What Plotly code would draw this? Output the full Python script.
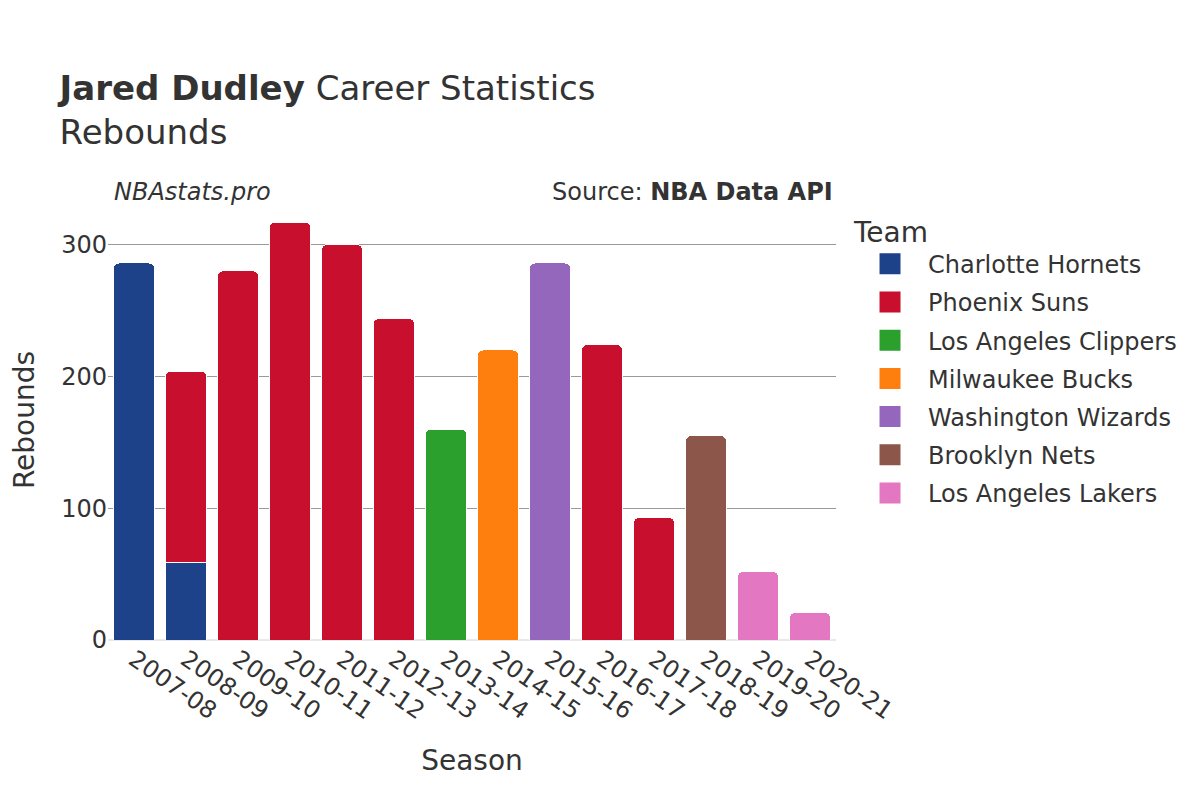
import plotly.graph_objects as go

seasons = ["2007-08", "2008-09", "2009-10", "2010-11", "2011-12", "2012-13", "2013-14",
           "2014-15", "2015-16", "2016-17", "2017-18", "2018-19", "2019-20", "2020-21"]

teams = ["Charlotte Hornets", "Phoenix Suns", "Los Angeles Clippers", "Milwaukee Bucks",
         "Washington Wizards", "Brooklyn Nets", "Los Angeles Lakers"]
team_colors = ["#1d428a", "#c8102e", "#2ca02c", "#ff7f0e", "#9467bd", "#8c564b", "#e377c2"]

# rebounds per season, per team (None = not on that team)
charlotte = [286, 59, None, None, None, None, None, None, None, None, None, None, None, None]
phoenix = [None, 145, 280, 317, 300, 244, None, None, None, 224, 93, None, None, None]
clippers = [None, None, None, None, None, None, 160, None, None, None, None, None, None, None]
bucks = [None, None, None, None, None, None, None, 220, None, None, None, None, None, None]
wizards = [None, None, None, None, None, None, None, None, 286, None, None, None, None, None]
nets = [None, None, None, None, None, None, None, None, None, None, None, 155, None, None]
lakers = [None, None, None, None, None, None, None, None, None, None, None, None, 52, 21]

team_values = [charlotte, phoenix, clippers, bucks, wizards, nets, lakers]

font = "DejaVu Sans"

fig = go.Figure()

for name, color, values in zip(teams, team_colors, team_values):
    # the bars themselves
    fig.add_trace(
        go.Bar(
            x=seasons,
            y=values,
            name=name,
            legendgroup=name,
            showlegend=False,
            marker=dict(color=color, line=dict(color="white", width=1)),
        )
    )
    # legend entry with a bigger swatch
    fig.add_trace(
        go.Scatter(
            x=[None],
            y=[None],
            name=name,
            legendgroup=name,
            mode="markers",
            marker=dict(symbol="square", size=16, color=color,
                        line=dict(color=color, width=5)),
        )
    )

fig.update_layout(
    barmode="stack",
    barcornerradius=6,
    bargap=0.2,
    width=1200,
    height=800,
    margin=dict(l=100, r=372, t=192, b=168),
    paper_bgcolor="white",
    plot_bgcolor="white",
    font=dict(family=font, color="#333333", size=24),
    title=dict(
        text="<b>Jared Dudley</b> Career Statistics<br>Rebounds",
        x=0.043,
        xanchor="left",
        y=0.885,
        yanchor="top",
        font=dict(size=34, family=font, color="#333333"),
    ),
    legend=dict(
        title=dict(text="Team", font=dict(size=28)),
        font=dict(size=24),
        x=1.022,
        y=0.988,
        yanchor="top",
        itemsizing="trace",
        itemwidth=66,
        traceorder="grouped",
        tracegroupgap=4,
    ),
    annotations=[
        dict(
            text="<i>NBAstats.pro</i>",
            xref="paper", yref="paper",
            x=0.005, y=1.018,
            xanchor="left", yanchor="middle",
            showarrow=False,
            font=dict(size=24, color="#333333"),
        ),
        dict(
            text="Source: <b>NBA Data API</b>",
            xref="paper", yref="paper",
            x=0.998, y=1.018,
            xanchor="right", yanchor="middle",
            showarrow=False,
            font=dict(size=24, color="#333333"),
        ),
    ],
)

fig.update_xaxes(
    type="category",
    title=dict(text="Season", font=dict(size=28), standoff=26),
    tickangle=35,
    tickfont=dict(size=24),
    showgrid=False,
    automargin=False,
)

fig.update_yaxes(
    title=dict(text="Rebounds", font=dict(size=28), standoff=40),
    tickfont=dict(size=24),
    tickvals=[0, 100, 200, 300],
    showgrid=True,
    gridcolor="#999999",
    gridwidth=1,
    zeroline=True,
    zerolinecolor="#e8e8e8",
    zerolinewidth=2,
    automargin=False,
)

fig.write_html("out.html")
